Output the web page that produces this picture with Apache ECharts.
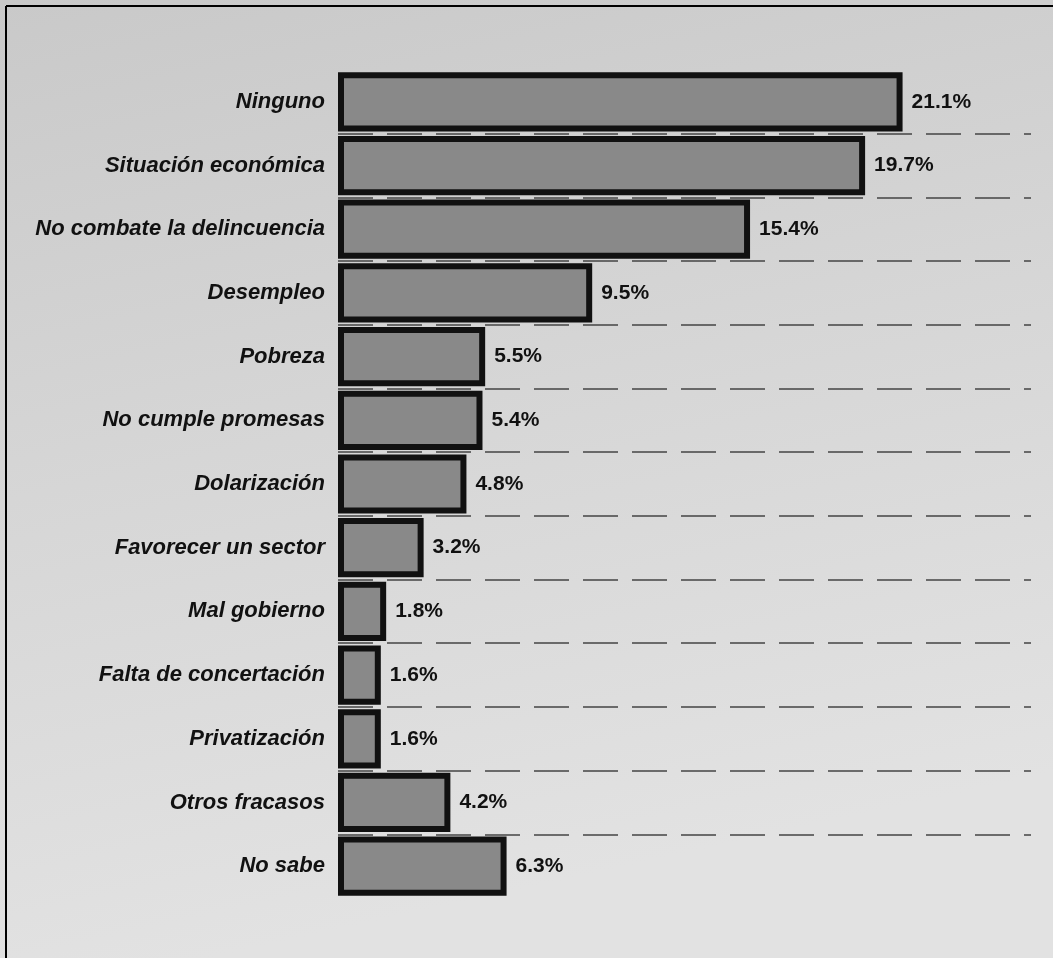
<!DOCTYPE html>
<html>
<head>
<meta charset="utf-8">
<script src="https://cdn.jsdelivr.net/npm/echarts@6/dist/echarts.min.js"></script>
<style>
html,body{margin:0;padding:0;background:#d6d6d6;}
#chart{width:1053px;height:958px;}
</style>
</head>
<body>
<div id="chart"></div>
<script>
const categories = ["Ninguno","Situación económica","No combate la delincuencia","Desempleo","Pobreza","No cumple promesas","Dolarización","Favorecer un sector","Mal gobierno","Falta de concertación","Privatización","Otros fracasos","No sabe"];
const values = [21.1,19.7,15.4,9.5,5.5,5.4,4.8,3.2,1.8,1.6,1.6,4.2,6.3];

const chart = echarts.init(document.getElementById('chart'));
chart.setOption({
  backgroundColor: {type:'linear',x:0,y:0,x2:0.2,y2:1,colorStops:[{offset:0,color:'#c9c9c9'},{offset:0.5,color:'#d6d6d6'},{offset:1,color:'#e2e2e2'}]},
  animation:false,
  graphic:[
    {type:'line',shape:{x1:6,y1:6,x2:1053,y2:6},style:{stroke:'#000',lineWidth:2}},
    {type:'line',shape:{x1:6,y1:6,x2:6,y2:958},style:{stroke:'#000',lineWidth:2}}
  ],
  grid:{left:338,right:22,top:70,bottom:60,containLabel:false},
  xAxis:{type:'value',min:0,max:25.9,show:false,splitLine:{show:false}},
  yAxis:{
    type:'category',data:categories,inverse:true,
    axisLine:{show:false},axisTick:{show:false},
    axisLabel:{margin:13,color:'#111',fontFamily:'Liberation Sans, Arial, sans-serif',fontStyle:'italic',fontWeight:'bold',fontSize:22},
    splitLine:{show:true,showMinLine:false,showMaxLine:false,lineStyle:{color:'#444',width:1.5,type:[35,14]}}
  },
  series:[{
    type:'bar',data:values,barCategoryGap:'7%',
    itemStyle:{color:'#898989',borderColor:'#111',borderWidth:6},
    label:{show:true,position:'right',distance:9,formatter:function(p){return p.value.toFixed(1)+'%';},color:'#111',fontFamily:'Liberation Sans Narrow, Liberation Sans, Arial, sans-serif',fontWeight:'bold',fontSize:21}
  }]
});
</script>
</body>
</html>
